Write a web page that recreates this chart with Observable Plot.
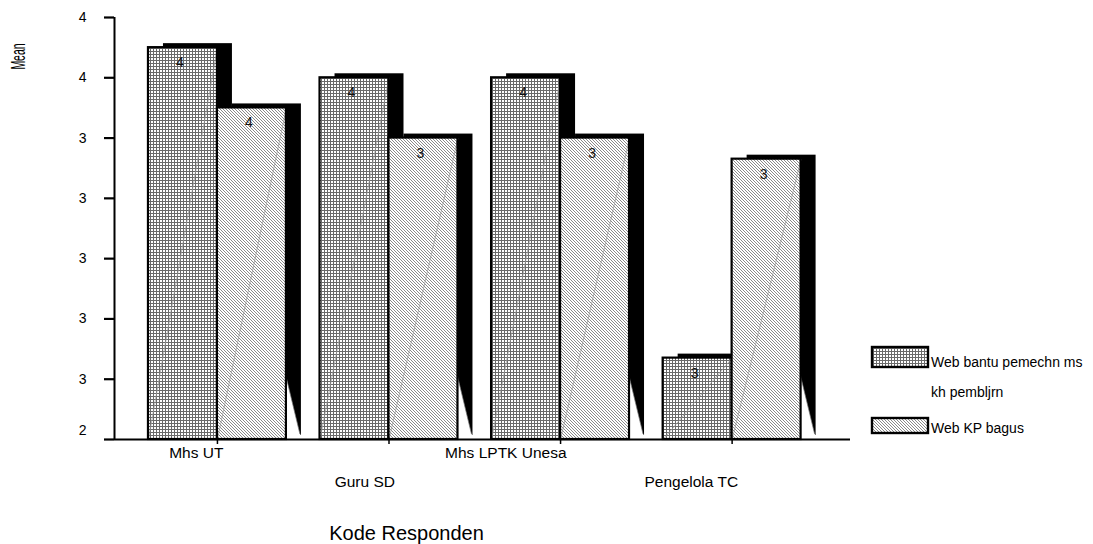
<!DOCTYPE html>
<html>
<head>
<meta charset="utf-8">
<script src="https://cdn.jsdelivr.net/npm/d3@7"></script>
<script src="https://cdn.jsdelivr.net/npm/@observablehq/plot@0.6"></script>
<style>
  body { margin: 0; background: #fff; }
  #chart { width: 1093px; height: 544px; }
</style>
</head>
<body>
<div id="chart"></div>
<script>
// ---- data ----
const groups = ["Mhs UT", "Guru SD", "Mhs LPTK Unesa", "Pengelola TC"];
const bantu = [3.70, 3.60, 3.60, 2.67];   // Web bantu pemechn ms kh pembljrn
const kp    = [3.50, 3.40, 3.40, 3.33];   // Web KP bagus
const yTicks = [2.4, 2.6, 2.8, 3.0, 3.2, 3.4, 3.6, 3.8];
const seriesNames = ["Web bantu pemechn ms", "kh pembljrn", "Web KP bagus"];
const xTitle = "Kode Responden";
const yTitle = "Mean";

const base = 2.4;
const halfW = 0.402;
const fmt = d3.format(".0f");
const rows = groups.map((g, i) => ({g, i, pos: i + 1, bantu: bantu[i], kp: kp[i]}));
const FONT = "'Liberation Sans', Arial, Helvetica, sans-serif";

const svg = Plot.plot({
  width: 1093,
  height: 544,
  marginLeft: 114,
  marginRight: 243,
  marginTop: 17,
  marginBottom: 105,
  style: {fontFamily: FONT, fontSize: "14px", background: "#fff", color: "#000", overflow: "visible"},
  x: {domain: [0.4, 4.69], axis: null},
  y: {domain: [2.4, 3.8], axis: null},
  marks: [
    // bantu: back shadow, face
    Plot.rect(rows, {x1: d => d.pos - halfW, x2: d => d.pos, y1: () => base, y2: d => d.bantu, fill: "black", dx: 15, dy: -4}),
    Plot.rect(rows, {x1: d => d.pos - halfW, x2: d => d.pos, y1: () => base, y2: d => d.bantu, fill: "url(#gridPat)"}),
    Plot.link(rows, {x1: d => d.pos - halfW, y1: () => base, x2: d => d.pos, y2: d => d.bantu, stroke: "#9a9a9a", strokeWidth: 0.7}),
    Plot.rect(rows, {x1: d => d.pos - halfW, x2: d => d.pos, y1: () => base, y2: d => d.bantu, fill: "none", stroke: "black", strokeWidth: 2.2}),
    // kp: back shadow, face
    Plot.rect(rows, {x1: d => d.pos, x2: d => d.pos + halfW, y1: () => base, y2: d => d.kp, fill: "black", dx: 15, dy: -4}),
    // white notch at the bottom of the side face
    (index, scales) => {
      const g = d3.create("svg:g");
      rows.forEach(d => {
        const X = scales.x(d.pos + halfW), Y0 = scales.y(base);
        g.append("path")
          .attr("d", `M${X},${Y0 - 63}L${X + 14},${Y0 - 5}L${X + 15},${Y0 - 4}L${X + 15},${Y0}L${X},${Y0}Z`)
          .attr("fill", "white");
        g.append("path")
          .attr("d", `M${X},${Y0 - 63}L${X + 14},${Y0 - 5}`)
          .attr("stroke", "#777").attr("stroke-width", 0.7).attr("fill", "none");
      });
      return g.node();
    },
    Plot.rect(rows, {x1: d => d.pos, x2: d => d.pos + halfW, y1: () => base, y2: d => d.kp, fill: "url(#hatchPat)"}),
    Plot.link(rows, {x1: d => d.pos, y1: () => base, x2: d => d.pos + halfW, y2: d => d.kp, stroke: "#9a9a9a", strokeWidth: 0.7}),
    Plot.rect(rows, {x1: d => d.pos, x2: d => d.pos + halfW, y1: () => base, y2: d => d.kp, fill: "none", stroke: "black", strokeWidth: 2.2}),
    // value labels
    Plot.text(rows, {x: d => d.pos - halfW / 2, y: d => d.bantu, text: d => fmt(d.bantu), dy: 15, dx: -3, fontSize: 14, fill: "#111"}),
    Plot.text(rows, {x: d => d.pos + halfW / 2, y: d => d.kp, text: d => fmt(d.kp), dy: 15, dx: -3, fontSize: 14, fill: "#111"}),
    // axes
    Plot.ruleX([0.4], {y1: 2.4, y2: 3.8, stroke: "black", strokeWidth: 2}),
    Plot.ruleY([base], {x1: 0.4, x2: 4.69, stroke: "black", strokeWidth: 2.2}),
    Plot.axisY(yTicks, {tickSize: 10, tickFormat: () => "", label: null, stroke: "black", strokeWidth: 2.2}),
    Plot.text(yTicks.slice(1), {y: d => d, text: d => fmt(d), frameAnchor: "left", textAnchor: "end", lineAnchor: "middle", dx: -28, fontSize: 14}),
    Plot.text(yTicks.slice(0, 1), {y: d => d, text: d => fmt(d), frameAnchor: "left", textAnchor: "end", lineAnchor: "middle", dx: -28, dy: -9, fontSize: 14}),
    Plot.axisX(rows.map(d => d.pos), {tickSize: 5, tickFormat: () => "", label: null, stroke: "black", strokeWidth: 1.5, y: base}),
    // staggered category labels
    Plot.text(rows.filter(d => d.i % 2 === 0), {x: "pos", y: () => base, text: "g", textAnchor: "end", dx: 6, dy: 14, fontSize: 15.5}),
    Plot.text(rows.filter(d => d.i % 2 === 1), {x: "pos", y: () => base, text: "g", textAnchor: "end", dx: 6, dy: 43, fontSize: 15.5}),
    // titles
    Plot.text([xTitle], {frameAnchor: "bottom", textAnchor: "middle", lineAnchor: "middle", text: d => d, dx: -76, dy: 94, fontSize: 20}),
    Plot.text([yTitle], {frameAnchor: "top-left", textAnchor: "middle", lineAnchor: "middle", text: d => d, dx: -96, dy: 39, rotate: -90, fontSize: 21})
  ]
});

// patterns
const s = d3.select(svg);
const defs = s.insert("defs", ":first-child");
const gp = defs.append("pattern").attr("id", "gridPat").attr("patternUnits", "userSpaceOnUse")
  .attr("width", 3).attr("height", 3);
gp.append("rect").attr("width", 3).attr("height", 3).attr("fill", "white");
gp.append("rect").attr("x", 0).attr("y", 0).attr("width", 3).attr("height", 1).attr("fill", "#6a6a6a");
gp.append("rect").attr("x", 0).attr("y", 0).attr("width", 1).attr("height", 3).attr("fill", "#6a6a6a");
const hp = defs.append("pattern").attr("id", "hatchPat").attr("patternUnits", "userSpaceOnUse")
  .attr("width", 3).attr("height", 3);
hp.append("rect").attr("width", 3).attr("height", 3).attr("fill", "white");
[0, 1, 2].forEach(k => hp.append("rect").attr("x", k).attr("y", k).attr("width", 1).attr("height", 1).attr("fill", "#8a8a8a"));

// condense the y-axis title like the original
s.selectAll("text").filter(function() { return this.textContent === yTitle; })
  .each(function() {
    const t = d3.select(this);
    t.attr("transform", (t.attr("transform") || "") + " scale(0.5,1)");
  });

// legend (right side)
const lg = s.append("g").attr("font-family", FONT).attr("font-size", 14).attr("text-anchor", "start");
lg.append("rect").attr("x", 872).attr("y", 347).attr("width", 56).attr("height", 20)
  .attr("fill", "url(#gridPat)").attr("stroke", "black").attr("stroke-width", 2.4);
lg.append("text").attr("x", 931).attr("y", 362).attr("dy", "0.35em").text(seriesNames[0]);
lg.append("text").attr("x", 931).attr("y", 392).attr("dy", "0.35em").text(seriesNames[1]);
lg.append("rect").attr("x", 872).attr("y", 418).attr("width", 56).attr("height", 15)
  .attr("fill", "url(#hatchPat)").attr("stroke", "black").attr("stroke-width", 2.4);
lg.append("text").attr("x", 931).attr("y", 428).attr("dy", "0.35em").text(seriesNames[2]);

document.getElementById("chart").appendChild(svg);
</script>
</body>
</html>
